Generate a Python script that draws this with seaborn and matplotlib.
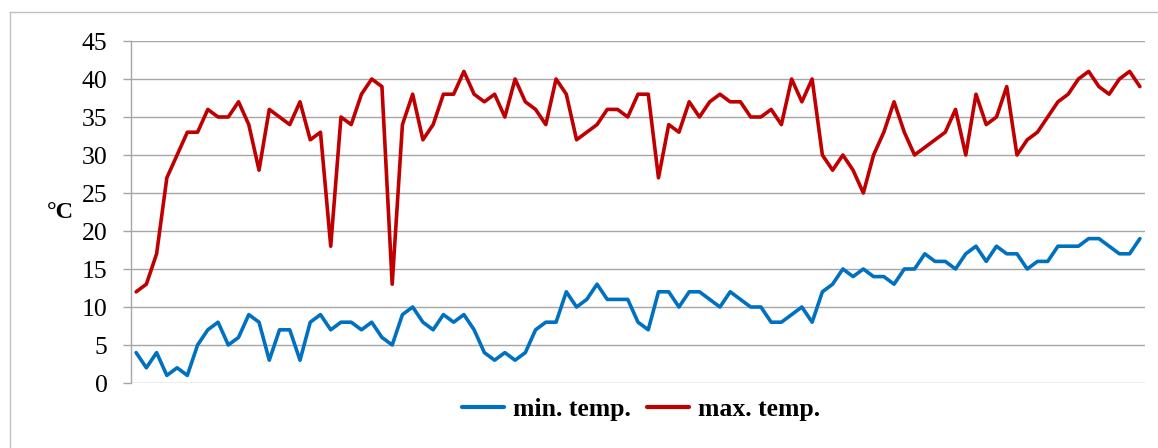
import numpy as np
import pandas as pd
import matplotlib
matplotlib.use("Agg")
import matplotlib.pyplot as plt
import seaborn as sns
from matplotlib.lines import Line2D

min_temp = [4, 2, 4, 1, 2, 1, 5, 7, 8, 5, 6, 9, 8, 3, 7, 7, 3, 8, 9, 7, 8, 8, 7, 8, 6,
            5, 9, 10, 8, 7, 9, 8, 9, 7, 4, 3, 4, 3, 4, 7, 8, 8, 12, 10, 11, 13, 11, 11,
            11, 8, 7, 12, 12, 10, 12, 12, 11, 10, 12, 11, 10, 10, 8, 8, 9, 10, 8, 12, 13, 15, 14, 15,
            14, 14, 13, 15, 15, 17, 16, 16, 15, 17, 18, 16, 18, 17, 17, 15, 16, 16, 18, 18, 18, 19, 19, 18, 17, 17, 19]
max_temp = [12, 13, 17, 27, 30, 33, 33, 36, 35, 35, 37, 34, 28, 36, 35, 34, 37, 32, 33, 18, 35, 34, 38, 40, 39,
            13, 34, 38, 32, 34, 38, 38, 41, 38, 37, 38, 35, 40, 37, 36, 34, 40, 38, 32, 33, 34, 36, 36,
            35, 38, 38, 27, 34, 33, 37, 35, 37, 38, 37, 37, 35, 35, 36, 34, 40, 37, 40, 30, 28, 30, 28, 25,
            30, 33, 37, 33, 30, 31, 32, 33, 36, 30, 38, 34, 35, 39, 30, 32, 33, 35, 37, 38, 40, 41, 39, 38, 40, 41, 39]
series_names = ["min. temp.", "max. temp."]
y_ticks = [0, 5, 10, 15, 20, 25, 30, 35, 40, 45]
y_label = "°C"

days = list(range(len(min_temp)))
df = pd.DataFrame({"day": days * 2,
                   "temp": min_temp + max_temp,
                   "series": [series_names[0]] * len(days) + [series_names[1]] * len(days)})

sns.set_theme(style="white")
plt.rcParams['font.family'] = ['Liberation Serif', 'DejaVu Serif']
plt.rcParams['text.color'] = 'black'
plt.rcParams['ytick.labelcolor'] = 'black'

W, H = 1158, 448
fig = plt.figure(figsize=(W / 100, H / 100), dpi=100)
ax = fig.add_axes([131 / W, 1 - 383 / H, (1145 - 131) / W, (383 - 41) / H])

palette = {series_names[0]: "#0070C0", series_names[1]: "#C00000"}
sns.lineplot(data=df, x="day", y="temp", hue="series", palette=palette, ax=ax,
             linewidth=2.6, legend=False)

ax.set_xlim(-0.5, len(days) - 0.5)
ax.set_ylim(0, 45)
ax.set_yticks(y_ticks)
ax.set_yticklabels([str(t) for t in y_ticks], fontsize=18.5, color="black")
ax.set_xticks([])
ax.set_xlabel("")
ax.set_ylabel("")
for t in y_ticks:
    ax.axhline(t, color="#A6A6A6", linewidth=1.0, zorder=0)
for s in ["top", "right", "bottom"]:
    ax.spines[s].set_visible(False)
ax.spines["left"].set_color("#A6A6A6")
ax.spines["left"].set_linewidth(1.0)
ax.tick_params(axis="y", direction="out", length=6, width=1.0, color="#A6A6A6",
               labelcolor="black", pad=11, left=True)

fig.text(60 / W, 1 - 212 / H, y_label, fontsize=17.5, fontweight="bold", ha="center", va="center",
         color="black")

handles = [Line2D([0], [0], color=palette[n], linewidth=3.0) for n in series_names]
leg = fig.legend(handles, series_names, loc="center", bbox_to_anchor=(641 / W, 1 - 409 / H),
                 ncol=2, frameon=False, handlelength=1.65, handletextpad=0.35, columnspacing=0.6,
                 labelcolor="black",
                 prop={"family": "Liberation Serif", "weight": "bold", "size": 18.5})

fig.add_artist(Line2D([10 / W, 10 / W], [0, 1 - 12 / H], transform=fig.transFigure, color="#BFBFBF", linewidth=1.0))
fig.add_artist(Line2D([10 / W, 1], [1 - 12 / H, 1 - 12 / H], transform=fig.transFigure, color="#BFBFBF", linewidth=1.0))

fig.savefig("out.png", dpi=100)
